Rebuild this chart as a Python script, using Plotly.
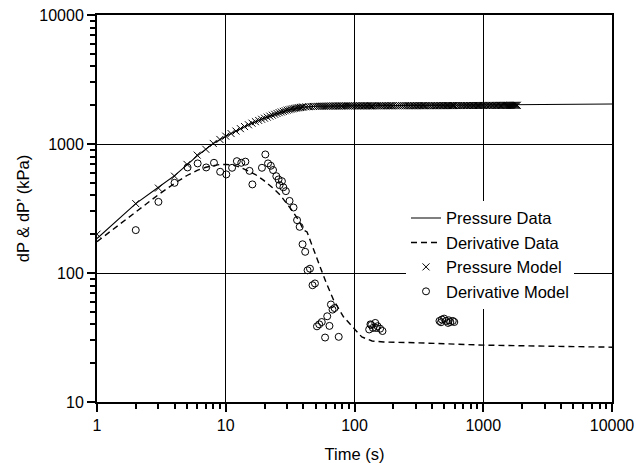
import plotly.graph_objects as go

# Pressure Data (solid line)
p_data_t = [1, 2, 3, 4, 5, 6, 7, 8, 10, 12, 15, 20, 25, 30, 40, 50, 70, 100, 300, 1000, 1800, 3000, 10000]
p_data_v = [185, 345, 462, 568, 690, 810, 910, 1010, 1150, 1260, 1410, 1590, 1730, 1830, 1930, 1960, 1970, 1975, 1982, 1988, 1995, 2010, 2040]

# Derivative Data (dashed line)
d_data_t = [1, 2, 3, 4, 5, 6, 7, 8, 9, 10, 11.5, 13, 14.6, 17, 19.6, 23, 26.5, 30, 32.6, 37, 40.2, 42.8,
            48.1, 54.2, 60, 68.9, 82.3, 98.5, 114, 137, 168, 300, 1000, 3000, 10000]
d_data_v = [175, 300, 405, 495, 570, 625, 660, 680, 693, 695, 686, 660, 628, 580, 525, 460, 402, 345, 307, 255, 215, 208,
            155, 111, 85, 61.5, 45.6, 37.1, 31.9, 29.7, 29.2, 28.8, 27.6, 27.1, 26.6]

# Pressure Model (x markers)
p_model_t = [1, 2, 3, 4, 5, 6, 7, 8, 9, 10, 11, 12, 13, 14, 15, 16, 17, 18, 19, 20,
             21, 22, 23, 24, 25, 26, 27, 28, 29, 30, 31, 32, 33, 34, 35, 36, 37, 38, 39, 40,
             42, 44, 46, 48, 50, 52, 54, 56, 58, 60, 62, 64, 66, 68, 70, 72, 74, 76, 78, 80,
             83, 86, 89, 92, 95, 98, 101, 104, 107, 110, 113, 116, 119, 122, 125, 128, 131, 134, 137, 140,
             145, 150, 155, 160, 165, 170, 175, 180, 185, 190, 195, 200,
             208, 216, 224, 232, 240, 248, 256, 264, 272, 280, 288, 296, 304, 312, 320, 328, 336, 344, 352, 360,
             372, 384, 396, 408, 420, 432, 444, 456, 468, 480, 492, 504, 516, 528, 540, 552, 564, 576, 588, 600,
             620, 640, 660, 680, 700, 720, 740, 760, 780, 800, 820, 840, 860, 880, 900, 920, 940, 960, 980, 1000,
             1030, 1060, 1090, 1120, 1150, 1180, 1210, 1240, 1270, 1300, 1330, 1360, 1390, 1420, 1450, 1480,
             1510, 1540, 1570, 1600, 1630, 1660, 1690, 1720, 1750, 1780, 1810, 1840]
p_model_v = [200, 345, 455, 563, 695, 820, 910, 1010, 1085, 1150, 1205, 1260, 1315, 1365, 1410, 1450, 1490, 1525, 1555, 1585,
             1615, 1645, 1672, 1700, 1725, 1750, 1770, 1790, 1810, 1830, 1845, 1860, 1873, 1885, 1895, 1905, 1913, 1920, 1928, 1935,
             1942, 1946, 1950, 1955, 1958, 1960, 1962, 1964, 1965, 1966, 1967, 1968, 1969, 1970, 1970, 1971, 1971, 1972, 1972, 1973,
             1973, 1974, 1974, 1974, 1975, 1975, 1975, 1975, 1976, 1976, 1976, 1976, 1976, 1977, 1977, 1977, 1977, 1977, 1977, 1978,
             1978, 1978, 1978, 1978, 1978, 1979, 1979, 1979, 1979, 1979, 1979, 1980,
             1980, 1980, 1980, 1980, 1980, 1980, 1981, 1981, 1981, 1981, 1981, 1981, 1981, 1982, 1982, 1982, 1982, 1982, 1982, 1982,
             1983, 1983, 1983, 1983, 1983, 1983, 1984, 1984, 1984, 1984, 1984, 1984, 1985, 1985, 1985, 1985, 1985, 1985, 1986, 1986,
             1986, 1986, 1986, 1987, 1987, 1987, 1987, 1987, 1988, 1988, 1988, 1988, 1988, 1989, 1989, 1989, 1989, 1989, 1990, 1990,
             1990, 1990, 1990, 1991, 1991, 1991, 1991, 1991, 1992, 1992, 1992, 1992, 1992, 1993, 1993, 1993,
             1993, 1993, 1994, 1994, 1994, 1994, 1994, 1995, 1995, 1995, 1995, 1995]

# Derivative Model (open circles)
d_model_t = [2.0, 3.0, 4.0, 5.05, 6.05, 7.05, 8.1, 9.05, 10.1, 11.2, 12.2, 13.2, 14.2, 15.3, 16.1,
             19.1, 20.3, 21.3, 22.4, 23.3, 24.7, 25.7, 27.3, 26.2, 28.0, 29.3, 31.3, 33.6, 35.8, 37.5, 39.5,
             41.4, 43.2, 45.1, 47.2, 49.3, 51.1, 53.2, 55.7, 59.1, 61.4, 63.9, 65.6, 67.5, 70.0, 75.4,
             130, 133, 135, 139, 145, 147, 151, 158, 165,
             457, 470, 477, 497, 514, 533, 540, 555, 580, 596]
d_model_v = [215, 356, 500, 658, 707, 658, 715, 609, 581, 654, 736, 715, 730, 619, 486,
             654, 830, 707, 678, 628, 563, 531, 515, 480, 462, 431, 362, 322, 257, 228, 167,
             146, 105, 108, 80.4, 83, 38.6, 40, 41.7, 31.6, 46.2, 38.9, 57, 52, 53.5, 32,
             36.5, 40, 39.5, 37.5, 41, 37.5, 38.7, 37, 35.5,
             42.5, 41.5, 43.6, 44.3, 42.5, 41, 43, 41.7, 42.5, 41.7]

x_ticks = [1, 10, 100, 1000, 10000]
y_ticks = [10, 100, 1000, 10000]
x_minor = [m * d for d in [1, 10, 100, 1000] for m in range(2, 10)]
y_minor = [m * d for d in [10, 100, 1000] for m in range(2, 10)]

FONT = "Liberation Sans, Arial, Helvetica, sans-serif"

fig = go.Figure()
fig.add_trace(go.Scatter(x=p_data_t, y=p_data_v, mode="lines", name="Pressure Data",
                         line=dict(color="black", width=1.1)))
fig.add_trace(go.Scatter(x=d_data_t, y=d_data_v, mode="lines", name="Derivative Data",
                         line=dict(color="black", width=1.4, dash="6px,4px")))
fig.add_trace(go.Scatter(x=p_model_t, y=p_model_v, mode="markers", name="Pressure Model",
                         marker=dict(symbol="x-thin", size=7, color="black",
                                     line=dict(color="black", width=1))))
fig.add_trace(go.Scatter(x=d_model_t, y=d_model_v, mode="markers", name="Derivative Model",
                         marker=dict(symbol="circle-open", size=7, color="black",
                                     line=dict(color="black", width=1))))

axis_common = dict(
    type="log", automargin=False,
    showline=True, linecolor="black", linewidth=2, mirror=True,
    showgrid=True, gridcolor="black", gridwidth=1.1,
    ticks="outside", ticklen=8, tickwidth=2, tickcolor="black",
    tickfont=dict(family=FONT, size=16, color="black"),
    zeroline=False,
)

fig.update_xaxes(**axis_common, range=[0, 4], tickvals=x_ticks, ticktext=[str(v) for v in x_ticks],
                 minor=dict(tickvals=x_minor, ticks="outside", ticklen=5,
                            tickwidth=1.6, tickcolor="black", showgrid=False),
                 title=dict(text="Time (s)", font=dict(family=FONT, size=16.5, color="black"), standoff=18))
fig.update_yaxes(**axis_common, range=[1, 4], tickvals=y_ticks, ticktext=[str(v) for v in y_ticks],
                 minor=dict(tickvals=y_minor, ticks="outside", ticklen=5,
                            tickwidth=1.6, tickcolor="black", showgrid=False),
                 title=dict(text="dP & dP’ (kPa)", font=dict(family=FONT, size=16.5, color="black"), standoff=6))

fig.update_layout(
    width=636, height=463,
    margin=dict(l=97, r=24, t=15, b=61),
    paper_bgcolor="white", plot_bgcolor="white",
    font=dict(family=FONT, color="black"),
    showlegend=True,
    legend=dict(x=0.6, y=0.52, xanchor="left", yanchor="top",
                bgcolor="white", borderwidth=0,
                font=dict(family=FONT, size=16.5, color="black"),
                tracegroupgap=0),
)

fig.write_html("out.html")
